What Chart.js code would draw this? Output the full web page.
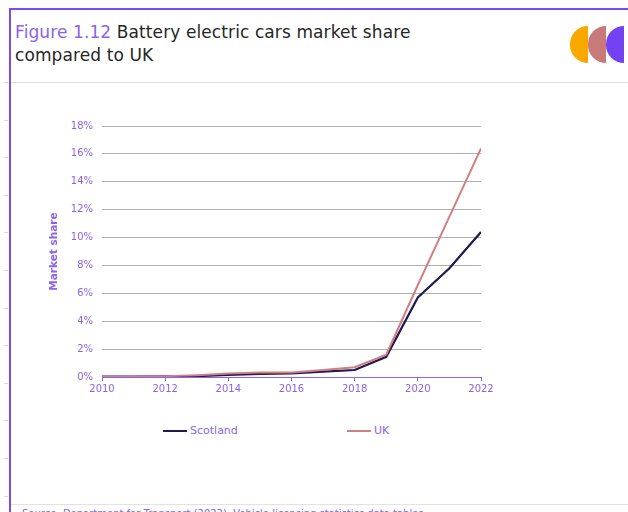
<!DOCTYPE html>
<html>
<head>
<meta charset="utf-8">
<script src="https://cdn.jsdelivr.net/npm/chart.js@4"></script>
<style>
    html, body { margin: 0; padding: 0; width: 628px; height: 512px; overflow: hidden; background: #fff; }
    #frame-top { position: absolute; left: 9px; top: 8px; width: 619px; height: 2px; background: #7b4bf2; }
    #frame-left { position: absolute; left: 9px; top: 8px; width: 2px; height: 504px; background: #7b4bf2; }
    .hline { position: absolute; left: 11px; width: 617px; height: 1px; background: #e2e2e2; }
    .rowmark { position: absolute; left: 4px; width: 4px; height: 1px; background: #d6d6d6; }
    #title { position: absolute; left: 15px; top: 21px; font-family: 'DejaVu Sans', sans-serif; font-size: 17px; line-height: 23px; color: #262626; letter-spacing: 0.1px; }
    #title span { color: #8a63f0; }
    .half { position: absolute; top: 26px; width: 18px; height: 37px; border-radius: 18.5px 0 0 18.5px; }
    #legend { position: absolute; top: 423px; left: 0; font-family: 'DejaVu Sans', sans-serif; font-size: 11px; color: #8a63f0; }
    .item { position: absolute; white-space: nowrap; line-height: 16px; }
    .item i { display: inline-block; width: 24px; height: 2px; vertical-align: middle; margin-right: 3px; }
    #source { position: absolute; left: 22px; top: 508px; font-family: 'DejaVu Sans', sans-serif; font-size: 10px; color: #8a63f0; white-space: nowrap; }
    #chart { position: absolute; left: 0; top: 0; }
</style>
</head>
<body>
<div id="frame-top"></div>
<div id="frame-left"></div>
<div class="hline" style="top: 82px"></div>
<div class="hline" style="top: 504px"></div>
<div id="marks"></div>
<div id="title"><span>Figure 1.12</span> Battery electric cars market share<br>compared to UK</div>
<div class="half" style="left: 570px; background: #f9a800"></div>
<div class="half" style="left: 588px; background: #c87a7a"></div>
<div class="half" style="left: 606px; background: #7441f5"></div>
<div id="legend"></div>
<div id="source">Source: Department for Transport (2023), Vehicle licensing statistics data tables</div>
<canvas id="chart" width="628" height="512"></canvas>
<script>
const years = [2010, 2011, 2012, 2013, 2014, 2015, 2016, 2017, 2018, 2019, 2020, 2021, 2022];
const scotland = [0.02, 0.03, 0.04, 0.06, 0.15, 0.22, 0.25, 0.38, 0.5, 1.45, 5.7, 7.8, 10.4];
const uk = [0.01, 0.04, 0.06, 0.13, 0.25, 0.33, 0.33, 0.5, 0.7, 1.6, 6.6, 11.5, 16.4];
const seriesNames = ['Scotland', 'UK'];
const seriesColors = ['#22174f', '#d08080'];

const purple = '#8a63f0';

// faint row marks down the left edge
const marks = document.getElementById('marks');
for (let y = 82; y < 512; y += 37.6) {
    const m = document.createElement('div');
    m.className = 'rowmark';
    m.style.top = Math.round(y) + 'px';
    marks.appendChild(m);
}

const chart = new Chart(document.getElementById('chart').getContext('2d'), {
    type: 'line',
    data: {
        datasets: [
            {
                label: seriesNames[0],
                data: years.map((yr, i) => ({x: yr, y: scotland[i]})),
                borderColor: seriesColors[0],
                borderWidth: 2.2,
                pointRadius: 0,
                order: 1
            },
            {
                label: seriesNames[1],
                data: years.map((yr, i) => ({x: yr, y: uk[i]})),
                borderColor: seriesColors[1],
                borderWidth: 2,
                pointRadius: 0,
                order: 0
            }
        ]
    },
    options: {
        responsive: false,
        animation: false,
        layout: { padding: { left: 44, right: 147, top: 126, bottom: 115 } },
        plugins: { legend: { display: false }, tooltip: { enabled: false } },
        scales: {
            x: {
                type: 'linear',
                min: 2010,
                max: 2022,
                ticks: {
                    stepSize: 2,
                    color: purple,
                    font: { family: 'DejaVu Sans', size: 10 },
                    padding: 2,
                    callback: v => String(v)
                },
                grid: { drawOnChartArea: false, color: purple, tickLength: 4 },
                border: { color: purple, width: 1 },
                afterFit: s => { s.height = 20; }
            },
            y: {
                min: 0,
                max: 18,
                ticks: {
                    stepSize: 2,
                    color: purple,
                    font: { family: 'DejaVu Sans', size: 10 },
                    padding: 9,
                    callback: v => v + '%'
                },
                grid: { color: ctx => ctx.tick && ctx.tick.value === 0 ? 'rgba(0,0,0,0)' : '#b0b0b0', drawTicks: false },
                border: { display: false },
                title: {
                    display: true,
                    text: 'Market share',
                    color: purple,
                    font: { family: 'DejaVu Sans', size: 10.5, weight: 'bold' },
                    padding: { top: 4, bottom: 0 }
                },
                afterFit: s => { s.width = 58; }
            }
        }
    }
});

// legend built from the datasets
const legend = document.getElementById('legend');
const legendX = [163, 347];
chart.data.datasets.forEach((ds, i) => {
    const item = document.createElement('div');
    item.className = 'item';
    item.style.left = legendX[i] + 'px';
    item.innerHTML = `<i style="background:${ds.borderColor}"></i>${ds.label}`;
    legend.appendChild(item);
});
</script>
</body>
</html>
